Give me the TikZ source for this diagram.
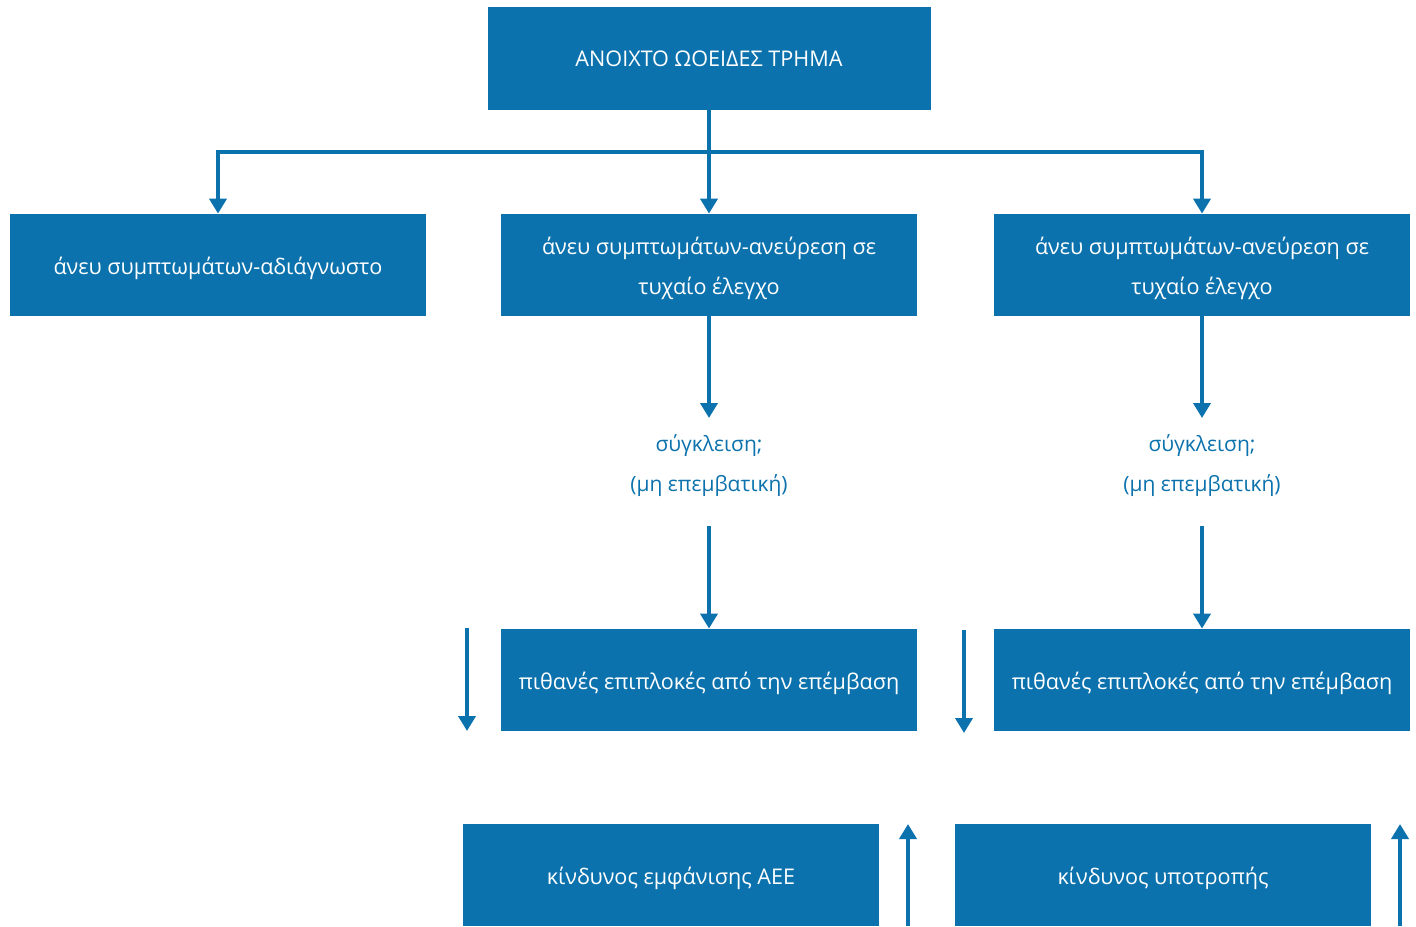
\documentclass[tikz,border=0pt]{standalone}
\usepackage{fontspec}
\setmainfont{Open Sans}
\usetikzlibrary{arrows.meta}
\definecolor{boxblue}{HTML}{0C72AD}

\begin{document}
\begin{tikzpicture}[x=0.5pt,y=-0.5pt,
    box/.style={fill=boxblue,text=white,minimum width=208pt,minimum height=51pt,
      inner sep=0pt,align=center,text height=12.5pt,font=\fontsize{10.8}{20}\selectfont},
    twobox/.style={box,text height=32.5pt},
    note/.style={text=boxblue,align=center,font=\fontsize{10.5}{20}\selectfont},
    link/.style={draw=boxblue,line width=2.2pt},
    arr/.style={link,-{Triangle[width=8.5pt,length=7.5pt]}}]
    \useasboundingbox (0,0) rectangle (1416,926);
    \node[box,minimum width=221.5pt,minimum height=51.5pt,text height=8.5pt] (open) at (709,58.5) {ΑΝΟΙΧΤΟ ΩΟΕΙΔΕΣ ΤΡΗΜΑ};
    \node[box] (silent) at (218,265) {άνευ συμπτωμάτων-αδιάγνωστο};
    \node[twobox] (found1) at (709,265) {άνευ συμπτωμάτων-ανεύρεση σε\\τυχαίο έλεγχο};
    \node[twobox] (found2) at (1202,265) {άνευ συμπτωμάτων-ανεύρεση σε\\τυχαίο έλεγχο};
    \node[note] (close1) at (709,466) {σύγκλειση;\\(μη επεμβατική)};
    \node[note] (close2) at (1202,466) {σύγκλειση;\\(μη επεμβατική)};
    \node[box] (compl1) at (709,680) {πιθανές επιπλοκές από την επέμβαση};
    \node[box] (compl2) at (1202,680) {πιθανές επιπλοκές από την επέμβαση};
    \node[box] (risk1) at (671,875) {κίνδυνος εμφάνισης ΑΕΕ};
    \node[box] (risk2) at (1163,875) {κίνδυνος υποτροπής};
    \coordinate (split) at (709,152);
    \coordinate (down1a) at (467,628);
    \coordinate (down1b) at (467,731);
    \coordinate (down2a) at (964,630);
    \coordinate (down2b) at (964,733);
    \coordinate (up1a) at (908,926);
    \coordinate (up1b) at (908,824);
    \coordinate (up2a) at (1400,926);
    \coordinate (up2b) at (1400,824);
    \coordinate (mid1) at (709,526);
    \coordinate (mid2) at (1202,526);
    \draw[arr] (open) -- (found1);
    \draw[arr] (split) -| (silent);
    \draw[arr] (split) -| (found2);
    \draw[arr] (found1) -- (709,418);
    \draw[arr] (found2) -- (1202,418);
    \draw[arr] (mid1) -- (compl1);
    \draw[arr] (mid2) -- (compl2);
    \draw[arr] (down1a) -- (down1b);
    \draw[arr] (down2a) -- (down2b);
    \draw[arr] (up1a) -- (up1b);
    \draw[arr] (up2a) -- (up2b);
  \end{tikzpicture}
\end{document}
